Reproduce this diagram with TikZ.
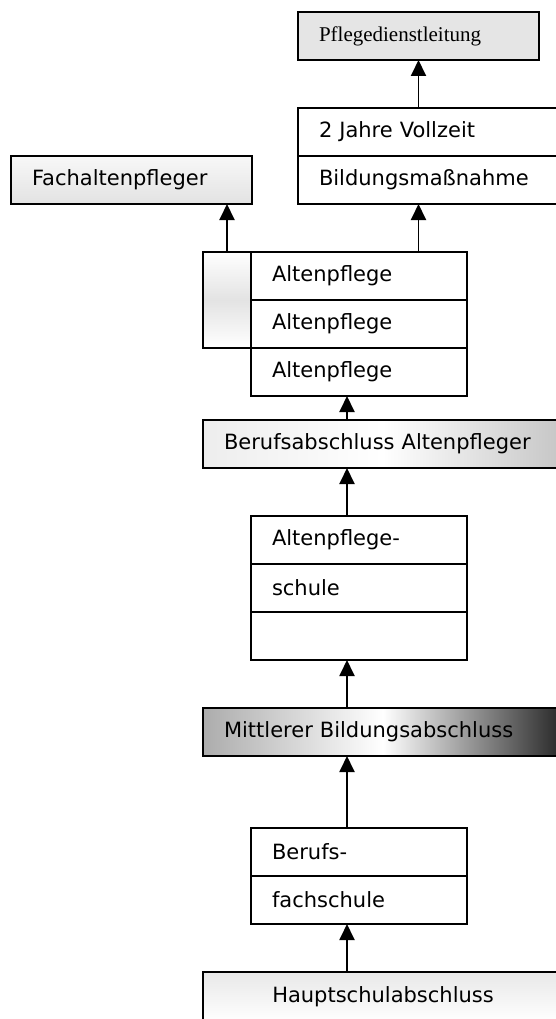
\documentclass[tikz,border=0pt]{standalone}
\usepackage{fontspec}
\setmainfont{DejaVu Sans}
\newfontfamily\serifbox{Liberation Serif}
\usepackage{tikz}
\usetikzlibrary{positioning,arrows.meta}
\tikzset{cell/.style={draw,line width=1.9pt,minimum height=48pt,inner xsep=21pt,inner ysep=0pt,outer sep=0pt,text width=#1,align=left,font=\fontsize{21}{24}\selectfont},
         arr/.style={-{Triangle[width=15pt,length=16pt]},line width=1.9pt},}

\begin{document}
\begin{tikzpicture}[x=1pt,y=1pt]
        \path[use as bounding box,clip] (0,0) rectangle (556,-1019);
        \coordinate (mid) at (347,0);
        % Top row
        \node[cell=199,anchor=north west,fill=gray!20,font=\serifbox\fontsize{21}{24}\selectfont] (pdl) at (298,-12) {Pflegedienstleitung};
        \node[cell=223,anchor=north west] (voll1) at (298,-108) {2 Jahre Vollzeit};
        \node[cell=223] [below=0pt of voll1] (voll2) {Bildungsmaßnahme};
        \node[cell=199,anchor=north west,top color=gray!6,bottom color=gray!22] (fach) at (11,-156) {Fachaltenpfleger};
        % Altenpflege
        \node[cell=174,anchor=north west] (alt1) at (251,-252) {Altenpflege};
        \node[cell=174] [below=0pt of alt1] (alt2) {Altenpflege};
        \node[cell=174] [below=0pt of alt2] (alt3) {Altenpflege};
        \node[draw,line width=1.9pt,outer sep=0pt,minimum width=48pt,minimum height=96pt,anchor=north east,
              top color=white,bottom color=white,middle color=gray!22] (side) at (alt1.north west) {};
        \node[cell=318,anchor=north west,left color=gray!14,right color=gray!45,middle color=white] (beruf) at (203,-420) {Berufsabschluss Altenpfleger};
        % Schulen
        \node[cell=174,anchor=north west] (sch1) at (251,-516) {Altenpflege-};
        \node[cell=174] [below=0pt of sch1] (sch2) {schule};
        \node[cell=174] [below=0pt of sch2] (sch3) {};
        \node[cell=318,anchor=north west,left color=gray!65,right color=black!85,middle color=white] (mba) at (203,-708) {Mittlerer Bildungsabschluss};
        \node[cell=174,anchor=north west] (bfs1) at (251,-828) {Berufs-};
        \node[cell=174] [below=0pt of bfs1] (bfs2) {fachschule};
        \node[cell=318,anchor=north west,align=center,minimum height=50pt,top color=gray!18,bottom color=white] (hsa) at (203,-972) {Hauptschulabschluss};
        % Paths
        \draw[arr] (pdl.south |- voll1.north) -- (pdl.south);
        \draw[arr] (pdl.south |- alt1.north) -- (pdl.south |- voll2.south);
        \draw[arr] (side.north) -- (side.north |- fach.south);
        \draw[arr] (mid |- beruf.north) -- (mid |- alt3.south);
        \draw[arr] (mid |- sch1.north) -- (mid |- beruf.south);
        \draw[arr] (mid |- mba.north) -- (mid |- sch3.south);
        \draw[arr] (mid |- bfs1.north) -- (mid |- mba.south);
        \draw[arr] (mid |- hsa.north) -- (mid |- bfs2.south);
    \end{tikzpicture}
\end{document}
